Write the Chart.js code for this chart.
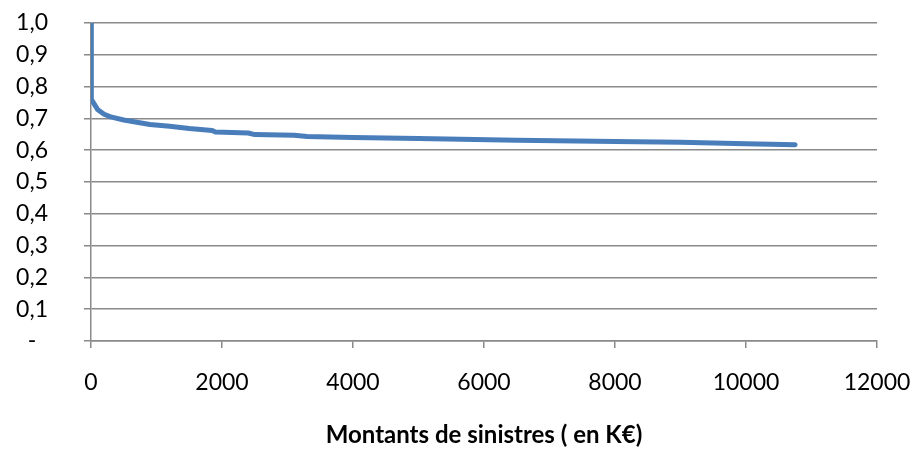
<!DOCTYPE html>
<html>
<head>
<meta charset="utf-8">
<script src="https://cdn.jsdelivr.net/npm/chart.js@4/dist/chart.umd.min.js"></script>
<style>
html,body{margin:0;padding:0;background:#fff;}
#wrap{width:914px;height:450px;position:relative;}
</style>
</head>
<body>
<div id="wrap"><canvas id="c" width="914" height="450"></canvas></div>
<script>
// Montants de sinistres (K€)
const montants = [0, 0, 10, 50, 100, 200, 300, 500, 700, 900, 1200, 1500, 1850, 1900, 2400, 2500, 3100, 3300, 4000, 5000, 6500, 8000, 9000, 9500, 10000, 10750];
// Valeurs de la courbe
const valeurs = [1.0, 0.78, 0.76, 0.745, 0.728, 0.713, 0.705, 0.695, 0.688, 0.681, 0.675, 0.668, 0.662, 0.657, 0.654, 0.649, 0.647, 0.643, 0.640, 0.637, 0.631, 0.627, 0.625, 0.623, 0.620, 0.617];
const xTicks = [0, 2000, 4000, 6000, 8000, 10000, 12000];
const yTicks = [0, 0.1, 0.2, 0.3, 0.4, 0.5, 0.6, 0.7, 0.8, 0.9, 1.0];
const xTitle = 'Montants de sinistres ( en K€)';

const points = montants.map((m, i) => ({x: m, y: valeurs[i]}));
const gridColor = '#898989';
const fontFam = 'Lato, "Open Sans", sans-serif';

new Chart(document.getElementById('c'), {
  type: 'scatter',
  data: {
    datasets: [{
      data: points,
      showLine: true,
      borderColor: '#4a7ebb',
      backgroundColor: '#4a7ebb',
      borderWidth: 5,
      pointRadius: 0,
      tension: 0,
      borderCapStyle: 'round',
      borderJoinStyle: 'round'
    }]
  },
  options: {
    responsive: false,
    animation: false,
    layout: {padding: {left: 0, right: 37, top: 23, bottom: 0}},
    plugins: {legend: {display: false}, tooltip: {enabled: false}},
    scales: {
      x: {
        type: 'linear',
        min: 0, max: 12000,
        afterBuildTicks: s => { s.ticks = xTicks.map(v => ({value: v})); },
        afterFit: s => { s.height = 109; s.paddingLeft = 0; s.paddingRight = 0; },
        ticks: {
          color: '#000',
          font: {family: fontFam, size: 23},
          padding: 21,
          maxRotation: 0,
          autoSkip: false,
          callback: v => String(v)
        },
        grid: {display: true, drawOnChartArea: false, drawTicks: true, tickLength: 7, color: gridColor, lineWidth: 1.5},
        border: {display: true, color: gridColor, width: 1.5},
        title: {
          display: true,
          text: xTitle,
          color: '#000',
          font: {family: fontFam, size: 24, weight: 'bold'},
          padding: {top: 4, bottom: 0}
        }
      },
      y: {
        min: 0, max: 1,
        afterBuildTicks: s => { s.ticks = yTicks.map(v => ({value: v})); },
        afterFit: s => { s.width = 91; s.paddingTop = 0; s.paddingBottom = 0; },
        ticks: {
          color: '#000',
          font: {family: fontFam, size: 23},
          padding: 36,
          autoSkip: false,
          callback: v => v === 0 ? '-  ' : v.toFixed(1).replace('.', ',')
        },
        grid: {display: true, drawOnChartArea: true, drawTicks: true, tickLength: 7, color: gridColor, lineWidth: 1.5},
        border: {display: true, color: gridColor, width: 1.5}
      }
    }
  }
});
</script>
</body>
</html>
